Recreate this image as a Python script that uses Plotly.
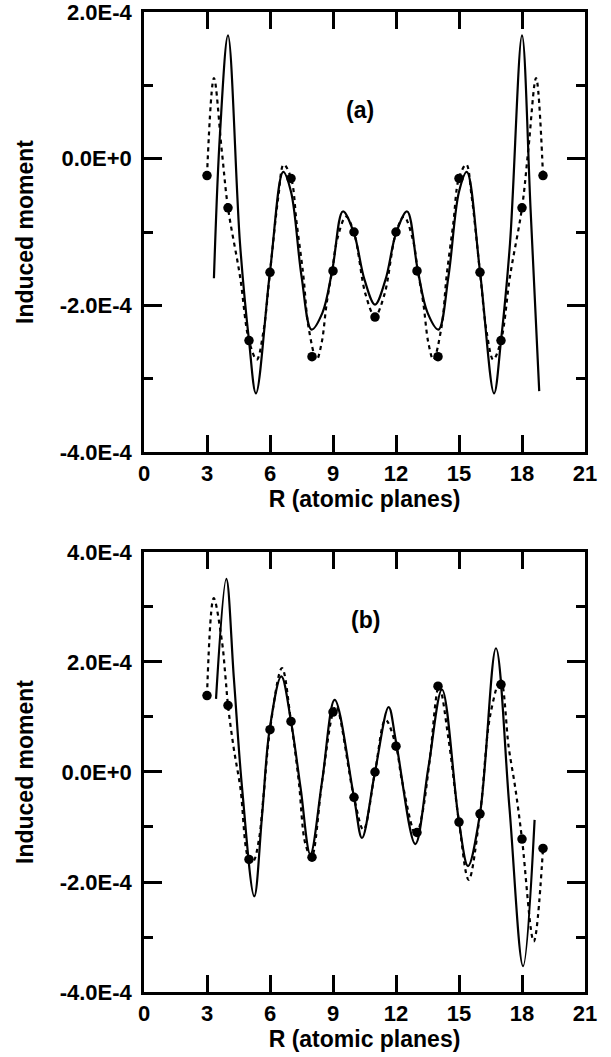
import plotly.graph_objects as go

SCALE = 1e-4  # values below are in units of 1E-4

# ---------------- panel (a) ----------------
A_DOT_X = [3, 4, 5, 6, 7, 8, 9, 10, 11, 12, 13, 14, 15, 16, 17, 18, 19]
A_DOT_Y = [-0.23, -0.67, -2.48, -1.55, -0.27, -2.70, -1.53, -1.00, -2.16,
           -1.00, -1.53, -2.70, -0.27, -1.55, -2.48, -0.67, -0.23]

A_SOLID_X = [3.33, 3.62, 4.00, 4.57, 5.00, 5.33, 6.00, 6.63, 7.00, 7.50, 7.98,
             8.50, 8.97, 9.47, 9.99, 10.50, 11.00, 11.50, 12.01, 12.53, 13.03,
             13.50, 14.02, 14.50, 15.00, 15.37, 16.00, 16.67, 17.00, 17.43,
             18.00, 18.41, 18.82]
A_SOLID_Y = [-1.63, 0.35, 1.68, -1.15, -2.48, -3.20, -1.54, -0.18, -0.45, -1.60,
             -2.33, -2.10, -1.51, -0.72, -1.01, -1.65, -1.99, -1.65, -1.01, -0.72,
             -1.51, -2.10, -2.33, -1.60, -0.45, -0.18, -1.54, -3.20, -2.48, -1.15,
             1.68, -0.70, -3.17]

A_DASH_X = [3.00, 3.33, 3.70, 4.00, 4.57, 5.00, 5.37, 5.68, 6.00, 6.40, 6.65,
            7.00, 7.27, 7.59, 7.83, 8.22, 8.46, 8.70, 8.97, 9.20, 9.62, 10.00,
            10.55, 11.00, 11.45, 12.00, 12.38, 12.80, 13.03, 13.30, 13.54,
            13.78, 14.17, 14.41, 14.73, 15.00, 15.35, 15.60, 16.00, 16.32,
            16.63, 17.00, 17.43, 18.00, 18.30, 18.67, 19.00]
A_DASH_Y = [-0.23, 1.10, 0.12, -0.67, -1.60, -2.48, -2.74, -2.37, -1.55, -0.51,
            -0.08, -0.26, -0.88, -1.60, -2.29, -2.74, -2.51, -1.97, -1.51, -1.10,
            -0.79, -1.01, -1.85, -2.15, -1.85, -1.01, -0.79, -1.10, -1.51, -1.97,
            -2.51, -2.74, -2.29, -1.60, -0.88, -0.26, -0.08, -0.51, -1.55, -2.37,
            -2.74, -2.48, -1.60, -0.67, 0.12, 1.10, -0.23]

# ---------------- panel (b) ----------------
B_DOT_X = [3, 4, 5, 6, 7, 8, 9, 10, 11, 12, 13, 14, 15, 16, 17, 18, 19]
B_DOT_Y = [1.39, 1.21, -1.59, 0.77, 0.92, -1.55, 1.09, -0.46, 0.00,
           0.47, -1.10, 1.56, -0.91, -0.76, 1.59, -1.22, -1.39]

B_SOLID_X = [3.43, 3.92, 4.28, 4.67, 5.25, 5.62, 5.98, 6.54, 7.00, 7.46, 7.92,
             8.48, 9.08, 10.00, 10.38, 11.00, 11.65, 12.00, 12.92, 13.55, 14.19,
             15.00, 15.43, 16.00, 16.76, 17.40, 18.05, 18.60]
B_SOLID_Y = [1.33, 3.51, 1.70, -0.29, -2.26, -0.80, 0.77, 1.74, 0.92, -0.30,
             -1.50, -0.17, 1.31, -0.46, -1.20, 0.00, 1.18, 0.55, -1.31, 0.10, 1.50,
             -0.91, -1.71, -0.76, 2.25, -0.64, -3.53, -0.87]

B_DASH_X = [3.00, 3.32, 3.71, 3.87, 4.00, 4.27, 4.59, 5.00, 5.20, 5.46, 5.70,
            6.00, 6.57, 7.00, 7.37, 7.68, 7.97, 8.48, 9.00, 9.15, 10.00, 10.45,
            11.00, 11.50, 12.00, 12.29, 12.95, 13.24, 13.60, 14.05, 14.50, 15.00,
            15.46, 16.00, 16.49, 16.98, 17.37, 17.68, 18.00, 18.56, 19.00]
B_DASH_Y = [1.39, 3.16, 2.38, 1.77, 1.21, 0.44, -0.29, -1.59, -1.62, -1.26, -0.40,
            0.77, 1.89, 0.92, -0.17, -1.30, -1.55, -0.17, 1.09, 1.20, -0.46, -1.05,
            0.00, 0.95, 0.47, -0.17, -1.15, -0.78, 0.20, 1.56, 0.60, -0.91,
            -1.96, -0.76, 1.04, 1.68, 0.44, -0.29, -1.22, -3.08, -1.39]

X_TICKS = [0, 3, 6, 9, 12, 15, 18, 21]
A_Y_TICKS = [-4, -2, 0, 2]
A_Y_MINOR = [-3, -1, 1]
B_Y_TICKS = [-4, -2, 0, 2, 4]
B_Y_MINOR = [-3, -1, 1, 3]


def ylabel(v):
    return "0.0E+0" if v == 0 else f"{v:.1f}E-4"


FONT = "Liberation Sans, Arial, sans-serif"
fig = go.Figure()


def add_panel(xa, ya, dot_x, dot_y, sol_x, sol_y, dash_x, dash_y):
    s = lambda arr: [v * SCALE for v in arr]
    fig.add_trace(go.Scatter(x=sol_x, y=s(sol_y), mode="lines", xaxis=xa, yaxis=ya,
                             line=dict(color="black", width=2.2, shape="spline", smoothing=1.0),
                             showlegend=False))
    fig.add_trace(go.Scatter(x=dash_x, y=s(dash_y), mode="lines", xaxis=xa, yaxis=ya,
                             line=dict(color="black", width=2.2, dash="4px,4px",
                                       shape="spline", smoothing=1.0),
                             showlegend=False))
    fig.add_trace(go.Scatter(x=dot_x, y=s(dot_y), mode="markers", xaxis=xa, yaxis=ya,
                             marker=dict(color="black", size=9.5), showlegend=False))


add_panel("x", "y", A_DOT_X, A_DOT_Y, A_SOLID_X, A_SOLID_Y, A_DASH_X, A_DASH_Y)
add_panel("x2", "y2", B_DOT_X, B_DOT_Y, B_SOLID_X, B_SOLID_Y, B_DASH_X, B_DASH_Y)

tickfont = dict(family=FONT, size=22, color="black", weight="bold")
titlefont = dict(family=FONT, size=23, color="black", weight="bold")

common = dict(showline=True, linecolor="black", linewidth=2.5, mirror="ticks",
              ticks="inside", tickwidth=2.5, tickcolor="black", showgrid=False,
              zeroline=False, tickfont=tickfont, automargin=False,
              ticklabeloverflow="allow")

xcommon = dict(common, range=[0, 21], tickvals=X_TICKS, ticktext=[str(v) for v in X_TICKS],
               ticklen=17, ticklabelstandoff=0,
               title=dict(text="R (atomic planes)", font=titlefont, standoff=6))


def ycommon(rng, ticks, minor):
    return dict(common, range=[rng[0] * SCALE, rng[1] * SCALE],
                tickvals=[v * SCALE for v in ticks], ticktext=[ylabel(v) for v in ticks],
                ticklen=18, ticklabelstandoff=5,
                minor=dict(tickvals=[v * SCALE for v in minor], ticks="inside",
                           ticklen=9, tickwidth=2.5, tickcolor="black"),
                title=dict(text="Induced moment", font=titlefont, standoff=20))


fig.update_layout(
    width=611, height=1057,
    margin=dict(l=144, r=26, t=12, b=65, autoexpand=False),
    paper_bgcolor="white", plot_bgcolor="white",
    xaxis=dict(xcommon, domain=[0, 1], anchor="y"),
    yaxis=dict(ycommon([-4, 2], A_Y_TICKS, A_Y_MINOR), domain=[0.551, 1], anchor="x"),
    xaxis2=dict(xcommon, domain=[0, 1], anchor="y2"),
    yaxis2=dict(ycommon([-4, 4], B_Y_TICKS, B_Y_MINOR), domain=[0, 0.449], anchor="x2"),
    annotations=[
        dict(text="(a)", x=10.3, y=0.67 * SCALE, xref="x", yref="y", showarrow=False,
             font=dict(family=FONT, size=23, color="black", weight="bold")),
        dict(text="(b)", x=10.57, y=2.76 * SCALE, xref="x2", yref="y2", showarrow=False,
             font=dict(family=FONT, size=23, color="black", weight="bold")),
    ],
)

fig.write_html("out.html", config={"displayModeBar": False},
               post_script="document.body.style.margin='0';document.body.style.padding='0';")
